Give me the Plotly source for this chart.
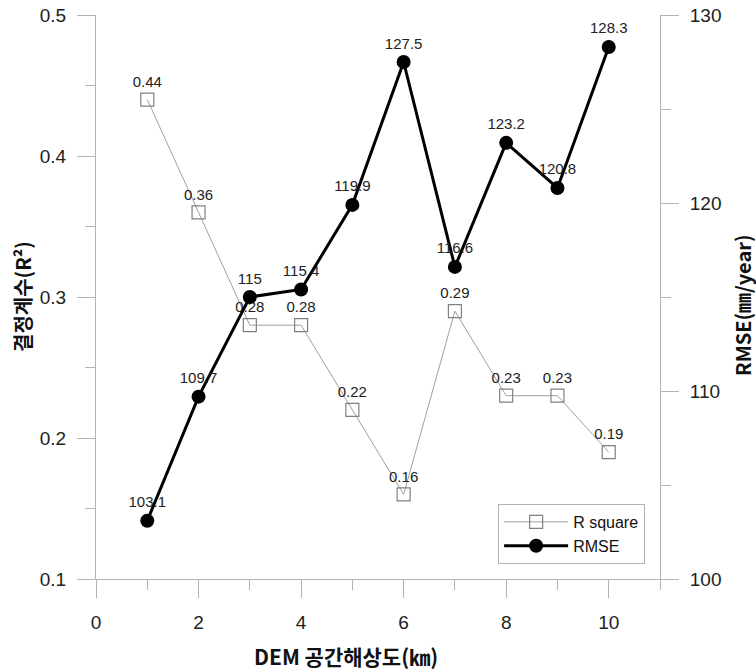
import plotly.graph_objects as go

resolution_km = [1, 2, 3, 4, 5, 6, 7, 8, 9, 10]
r_square = [0.44, 0.36, 0.28, 0.28, 0.22, 0.16, 0.29, 0.23, 0.23, 0.19]
rmse = [103.1, 109.7, 115, 115.4, 119.9, 127.5, 116.6, 123.2, 120.8, 128.3]
r_labels = ["0.44", "0.36", "0.28", "0.28", "0.22", "0.16", "0.29", "0.23", "0.23", "0.19"]
rmse_labels = ["103.1", "109.7", "115", "115.4", "119.9", "127.5", "116.6", "123.2", "120.8", "128.3"]

AX = "#b3b3b3"
TICKFONT = dict(family="Liberation Sans, Arial", size=19, color="#222")
TITLEFONT = dict(family="Noto Sans CJK KR", size=20, color="#111")
LABELFONT = dict(family="Liberation Sans, Arial", size=15, color="#222")

fig = go.Figure()
fig.add_trace(go.Scatter(
    x=resolution_km, y=r_square, name="R square", mode="lines+markers+text",
    line=dict(color="#a0a0a0", width=1),
    marker=dict(symbol="square-open", size=13, color="#808080", line=dict(width=1.2)),
    text=r_labels, textposition="top center", textfont=LABELFONT,
    yaxis="y", cliponaxis=False,
))
fig.add_trace(go.Scatter(
    x=resolution_km, y=rmse, name="RMSE", mode="lines+markers+text",
    line=dict(color="#000", width=3),
    marker=dict(symbol="circle", size=14, color="#000"),
    text=rmse_labels, textposition="top center", textfont=LABELFONT,
    yaxis="y2", cliponaxis=False,
))

common_axis = dict(
    showgrid=False, zeroline=False, showline=True, linecolor=AX, linewidth=1,
    ticks="outside", ticklen=18, tickcolor=AX, tickwidth=1,
    tickfont=TICKFONT, automargin=False,
)

fig.update_layout(
    width=756, height=670,
    margin=dict(l=96, r=96, t=15, b=91),
    plot_bgcolor="white", paper_bgcolor="white",
    showlegend=True,
    legend=dict(
        x=0.713, y=0.133, xanchor="left", yanchor="top",
        bordercolor=AX, borderwidth=1, bgcolor="white",
        font=dict(family="Liberation Sans, Arial", size=16, color="#111"),
        tracegroupgap=0, itemwidth=64,
    ),
    xaxis=dict(
        range=[0, 11], tickmode="array", tickvals=[0, 2, 4, 6, 8, 10],
        minor=dict(tickmode="array", tickvals=[1, 3, 5, 7, 9, 11], ticks="outside", ticklen=10, tickcolor=AX, tickwidth=1),
        ticklabelstandoff=8,
        **common_axis,
    ),
    yaxis=dict(
        range=[0.1, 0.5], tickmode="array", tickvals=[0.1, 0.2, 0.3, 0.4, 0.5],
        ticktext=["0.1", "0.2", "0.3", "0.4", "0.5"],
        minor=dict(tickmode="array", tickvals=[0.15, 0.25, 0.35, 0.45], ticks="outside", ticklen=10, tickcolor=AX, tickwidth=1),
        ticklabelstandoff=7,
        **common_axis,
    ),
    yaxis2=dict(
        range=[100, 130], overlaying="y", side="right", tickmode="array",
        tickvals=[100, 110, 120, 130],
        minor=dict(tickmode="array", tickvals=[105, 115, 125], ticks="outside", ticklen=10, tickcolor=AX, tickwidth=1),
        ticklabelstandoff=7,
        **common_axis,
    ),
    annotations=[
        dict(text="<b>DEM 공간해상도(㎞)</b>", xref="paper", yref="paper", x=0.5, y=0, yshift=-77,
             xanchor="center", yanchor="middle", showarrow=False, font=dict(TITLEFONT, size=21), xshift=-32),
        dict(text="<b>결정계수(R²)</b>", xref="paper", yref="paper", x=0, y=0.5,
             xanchor="center", yanchor="middle", showarrow=False, font=TITLEFONT, textangle=-90, xshift=-74),
        dict(text="<b>RMSE(㎜/year)</b>", xref="paper", yref="paper", x=1, y=0.5, yshift=-8,
             xanchor="center", yanchor="middle", showarrow=False, font=TITLEFONT, textangle=-90, xshift=82),
    ],
)

fig.write_html("out.html")
